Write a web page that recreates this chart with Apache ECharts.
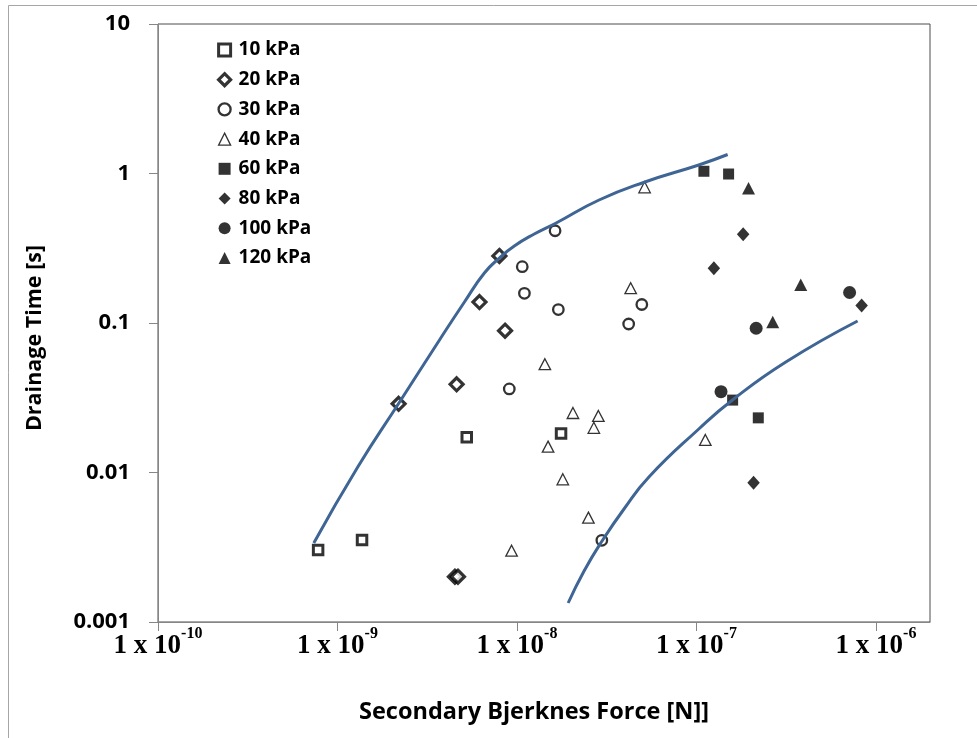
<!DOCTYPE html>
<html>
<head>
<meta charset="utf-8">
<script src="https://cdn.jsdelivr.net/npm/echarts@6/dist/echarts.min.js"></script>
<style>
  html, body { margin: 0; padding: 0; background: #ffffff; }
  #chart { width: 977px; height: 738px; }
</style>
</head>
<body>
<div id="chart"></div>
<script>
// Pressure groups
const seriesNames = ['10 kPa', '20 kPa', '30 kPa', '40 kPa', '60 kPa', '80 kPa', '100 kPa', '120 kPa'];

// Secondary Bjerknes force [N] and drainage time [s] per pressure
const force10 = [7.80e-10, 1.37e-9, 5.25e-9, 1.76e-8];
const time10  = [0.00303, 0.00353, 0.0172, 0.0182];

const force20 = [7.98e-9, 6.18e-9, 8.58e-9, 4.61e-9, 2.19e-9, 4.51e-9, 4.69e-9];
const time20  = [0.281, 0.138, 0.0889, 0.0389, 0.0288, 0.00201, 0.00201];

const force30 = [1.63e-8, 1.07e-8, 1.10e-8, 1.70e-8, 9.06e-9, 4.19e-8, 4.96e-8, 2.97e-8];
const time30  = [0.414, 0.238, 0.158, 0.123, 0.0362, 0.0985, 0.133, 0.00352];

const force40 = [5.14e-8, 4.30e-8, 1.43e-8, 2.05e-8, 2.84e-8, 2.68e-8, 1.49e-8, 1.80e-8, 2.50e-8, 9.33e-9, 1.12e-7];
const time40  = [0.809, 0.171, 0.0530, 0.0250, 0.0239, 0.0199, 0.0149, 0.00901, 0.00499, 0.00300, 0.0165];

const force60 = [1.10e-7, 1.51e-7, 1.59e-7, 2.21e-7];
const time60  = [1.035, 0.992, 0.0305, 0.0232];

const force80 = [1.82e-7, 1.25e-7, 8.32e-7, 2.08e-7];
const time80  = [0.392, 0.232, 0.131, 0.00855];

const force100 = [7.13e-7, 2.15e-7, 1.37e-7];
const time100  = [0.160, 0.0922, 0.0347];

const force120 = [1.95e-7, 3.81e-7, 2.66e-7];
const time120  = [0.796, 0.180, 0.1016];

// Envelope curves
const upperCurveForce = [7.38e-10, 1.297e-9, 2.218e-9, 3.701e-9, 5.096e-9, 6.580e-9, 7.975e-9, 9.661e-9, 1.248e-8, 1.653e-8, 2.866e-8, 5.162e-8, 1.030e-7, 1.492e-7];
const upperCurveTime  = [0.003376, 0.01088, 0.02963, 0.0770, 0.1382, 0.2160, 0.2720, 0.3275, 0.3937, 0.4667, 0.6648, 0.8772, 1.140, 1.340];

const lowerCurveForce = [1.928e-8, 2.365e-8, 2.978e-8, 3.946e-8, 5.433e-8, 1.030e-7, 1.587e-7, 3.146e-7, 7.903e-7];
const lowerCurveTime  = [0.001340, 0.002194, 0.003482, 0.005700, 0.009331, 0.01954, 0.03054, 0.05483, 0.1031];

// Axis ticks
const xTickValues = [1e-10, 1e-9, 1e-8, 1e-7, 1e-6];
const xTickExponents = ['-10', '-9', '-8', '-7', '-6'];
const yTickValues = [0.001, 0.01, 0.1, 1, 10];
const yTickLabels = ['0.001', '0.01', '0.1', '1', '10'];

const pairs = (xs, ys) => xs.map((x, i) => [x, ys[i]]);
const nearestIndex = (vals, v) => {
  let best = 0, bestD = Infinity;
  vals.forEach((t, i) => {
    const d = Math.abs(Math.log10(t) - Math.log10(v));
    if (d < bestD) { bestD = d; best = i; }
  });
  return best;
};

const sansBold = { fontFamily: 'Open Sans', fontWeight: 'bold', color: '#000000' };
const axisGrey = '#868686';

const openStyle = (w) => ({ color: '#ffffff', borderColor: '#000000', borderWidth: w });
const solidStyle = { color: '#000000', borderWidth: 0 };

const scatterDefs = [
  { symbol: 'rect',     symbolSize: 9.5,        itemStyle: openStyle(3) },
  { symbol: 'diamond',  symbolSize: 13,         itemStyle: openStyle(3.2) },
  { symbol: 'circle',   symbolSize: 10.5,       itemStyle: openStyle(2.3) },
  { symbol: 'triangle', symbolSize: [11.5, 11], itemStyle: openStyle(1.3) },
  { symbol: 'rect',     symbolSize: 11,         itemStyle: solidStyle },
  { symbol: 'diamond',  symbolSize: [12.5, 14], itemStyle: solidStyle },
  { symbol: 'circle',   symbolSize: 13,         itemStyle: solidStyle },
  { symbol: 'triangle', symbolSize: [13, 12.5], itemStyle: solidStyle }
];
const scatterData = [
  pairs(force10, time10), pairs(force20, time20), pairs(force30, time30), pairs(force40, time40),
  pairs(force60, time60), pairs(force80, time80), pairs(force100, time100), pairs(force120, time120)
];

const curveColor = '#3f6595';
const curveSeries = (data) => ({
  type: 'line',
  data,
  smooth: 0.5,
  showSymbol: false,
  silent: true,
  z: 5,
  lineStyle: { color: curveColor, width: 3 },
  itemStyle: { color: curveColor }
});

const chart = echarts.init(document.getElementById('chart'), null, { renderer: 'canvas' });

chart.setOption({
  animation: false,
  backgroundColor: '#ffffff',
  graphic: [{
    type: 'rect',
    shape: { x: 8.5, y: 5.5, width: 1400, height: 1400 },
    style: { fill: 'none', stroke: '#a6a6a6', lineWidth: 1 },
    silent: true,
    z: -10
  }],
  grid: {
    left: 158, right: 47, top: 24, bottom: 116,
    show: true, borderColor: '#4d4d4d', borderWidth: 1, backgroundColor: 'transparent'
  },
  legend: {
    data: seriesNames.map((name, i) => ({
      name,
      itemStyle: { borderWidth: scatterDefs[i].itemStyle.borderWidth }
    })),
    orient: 'vertical',
    left: 212,
    top: 35,
    itemWidth: 12,
    itemHeight: 12,
    itemGap: 9.7,
    selectedMode: false,
    textStyle: Object.assign({ fontSize: 19, lineHeight: 20, padding: [0, 0, 0, 3] }, sansBold)
  },
  xAxis: {
    type: 'log',
    logBase: 10,
    min: 1e-10,
    max: 2e-6,
    axisLine: { show: true, lineStyle: { color: axisGrey, width: 1 } },
    axisTick: { show: true, inside: false, length: 9, lineStyle: { color: axisGrey }, customValues: xTickValues },
    splitLine: { show: false },
    minorTick: { show: false },
    axisLabel: {
      customValues: xTickValues,
      margin: 4,
      formatter: (v) => '{b|1 x 10}{s|' + xTickExponents[nearestIndex(xTickValues, v)] + '}',
      rich: {
        b: { fontFamily: 'Liberation Serif', fontWeight: 'bold', fontSize: 27, lineHeight: 40, color: '#000' },
        s: { fontFamily: 'Liberation Serif', fontWeight: 'bold', fontSize: 16, lineHeight: 14, verticalAlign: 'top', color: '#000' }
      }
    },
    name: 'Secondary Bjerknes Force [N]]',
    nameLocation: 'middle',
    nameGap: 78,
    nameTextStyle: Object.assign({ fontSize: 23.5, padding: [0, 20, 0, 0] }, sansBold)
  },
  yAxis: {
    type: 'log',
    logBase: 10,
    min: 0.001,
    max: 10,
    axisLine: { show: true, lineStyle: { color: axisGrey, width: 1 } },
    axisTick: { show: true, inside: false, length: 9, lineStyle: { color: axisGrey }, customValues: yTickValues },
    splitLine: { show: false },
    minorTick: { show: false },
    axisLabel: Object.assign({
      customValues: yTickValues,
      margin: 28,
      fontSize: 22,
      formatter: (v) => yTickLabels[nearestIndex(yTickValues, v)]
    }, sansBold),
    name: 'Drainage Time [s]',
    nameLocation: 'middle',
    nameGap: 112,
    nameTextStyle: Object.assign({ fontSize: 21.5, padding: [0, 30, 0, 0] }, sansBold)
  },
  series: scatterDefs.map((d, i) => Object.assign({
    type: 'scatter',
    name: seriesNames[i],
    data: scatterData[i],
    z: 3
  }, d)).concat([
    curveSeries(pairs(upperCurveForce, upperCurveTime)),
    curveSeries(pairs(lowerCurveForce, lowerCurveTime))
  ])
});
</script>
</body>
</html>
